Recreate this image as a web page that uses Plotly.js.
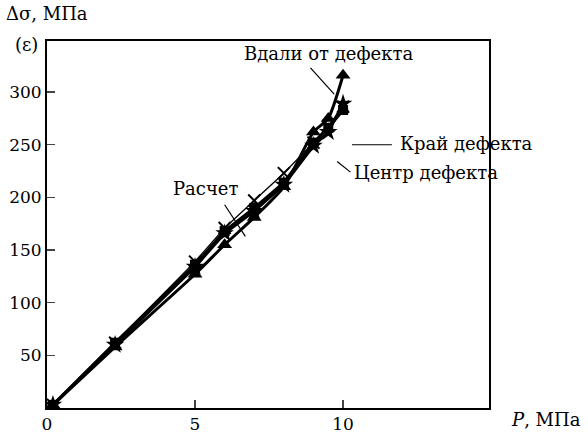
<!DOCTYPE html>
<html><head><meta charset="utf-8">
<script src="https://cdn.plot.ly/plotly-3.0.1.min.js"></script>
<style>body{margin:0;background:#fff}#c{width:588px;height:435px}</style>
</head><body><div id="c"></div>
<script>
const P = [0.2, 2.3, 5, 6, 7, 8, 9, 9.5, 10];
const farVals = [3, 58, 127, 155, 181, 210, 262, 275, 316];
const edgeVals = [3, 60, 134, 166, 187, 212, 249, 262, 289];
const centerVals = [3, 62, 136, 168, 190, 214, 252, 266, 283];
const calcVals = [3, 62, 139, 171, 197, 223, 252, 268, 286];
const xTicks = [0, 5, 10];
const yTicks = [50, 100, 150, 200, 250, 300];

const font = {family: "DejaVu Serif, Liberation Serif, serif", size: 18, color: "#000"};
const tfont = {family: "DejaVu Serif, Liberation Serif, serif", size: 17, color: "#000"};

const traces = [
  {x: P, y: calcVals, mode: "lines+markers", line: {color: "#000", width: 1.3},
   marker: {symbol: "x-thin", size: 12, line: {color: "#000", width: 2}}, name: "Расчет"},
  {x: P, y: centerVals, mode: "lines+markers", line: {color: "#000", width: 3},
   marker: {symbol: "square", size: 10, color: "#000"}, name: "Центр дефекта"},
  {x: P, y: edgeVals, mode: "lines+markers", line: {color: "#000", width: 3},
   marker: {symbol: "star", size: 14, color: "#000"}, name: "Край дефекта"},
  {x: P, y: farVals, mode: "lines+markers", line: {color: "#000", width: 3, shape: "spline", smoothing: 0.6},
   marker: {symbol: "triangle-up", size: 13, color: "#000"}, name: "Вдали от дефекта"}
];

const lines = [
  [8.9, 323, 9.7, 298],
  [10.3, 250, 11.65, 250],
  [9.8, 234, 10.25, 224],
  [6.0, 193, 6.7, 163]
];
const shapes = lines.map(l => ({type: "line", xref: "x", yref: "y", x0: l[0], y0: l[1], x1: l[2], y1: l[3], line: {color: "#000", width: 1.2}}));

const annotations = [
  {x: 9.5, y: 337, text: "Вдали от дефекта", xanchor: "center"},
  {x: 11.85, y: 251, text: "Край дефекта", xanchor: "left"},
  {x: 10.3, y: 224, text: "Центр дефекта", xanchor: "left"},
  {x: 5.35, y: 208, text: "Расчет", xanchor: "center"}
].map(a => Object.assign({xref: "x", yref: "y", showarrow: false, font: font, yanchor: "middle"}, a));
annotations.push({xref: "paper", yref: "paper", x: -0.097, y: 1.074, text: "Δσ, МПа", showarrow: false, xanchor: "left", yanchor: "middle", font: font});
annotations.push({xref: "paper", yref: "paper", x: -0.016, y: 0.99, text: "(ε)", showarrow: false, xanchor: "right", yanchor: "middle", font: font});
annotations.push({xref: "paper", yref: "paper", x: 1.212, y: -0.032, text: "<i>P</i>, МПа", showarrow: false, xanchor: "right", yanchor: "middle", font: font});

const layout = {
  width: 588, height: 435,
  margin: {l: 47, r: 99, t: 41, b: 27},
  paper_bgcolor: "#fff", plot_bgcolor: "#fff",
  showlegend: false,
  font: font,
  xaxis: {range: [0, 14.93], tickvals: xTicks, ticktext: xTicks.map(String), ticks: "inside", ticklen: 8,
          tickwidth: 1.5, showgrid: false, zeroline: false, showline: true, linewidth: 2, linecolor: "#000", mirror: true,
          tickfont: tfont},
  yaxis: {range: [0, 348.5], tickvals: yTicks, ticktext: yTicks.map(String), ticks: "inside", ticklen: 8,
          tickwidth: 1.5, showgrid: false, zeroline: false, showline: true, linewidth: 2, linecolor: "#000", mirror: true,
          tickfont: tfont},
  shapes: shapes,
  annotations: annotations
};
Plotly.newPlot("c", traces, layout, {staticPlot: true});
</script></body></html>
